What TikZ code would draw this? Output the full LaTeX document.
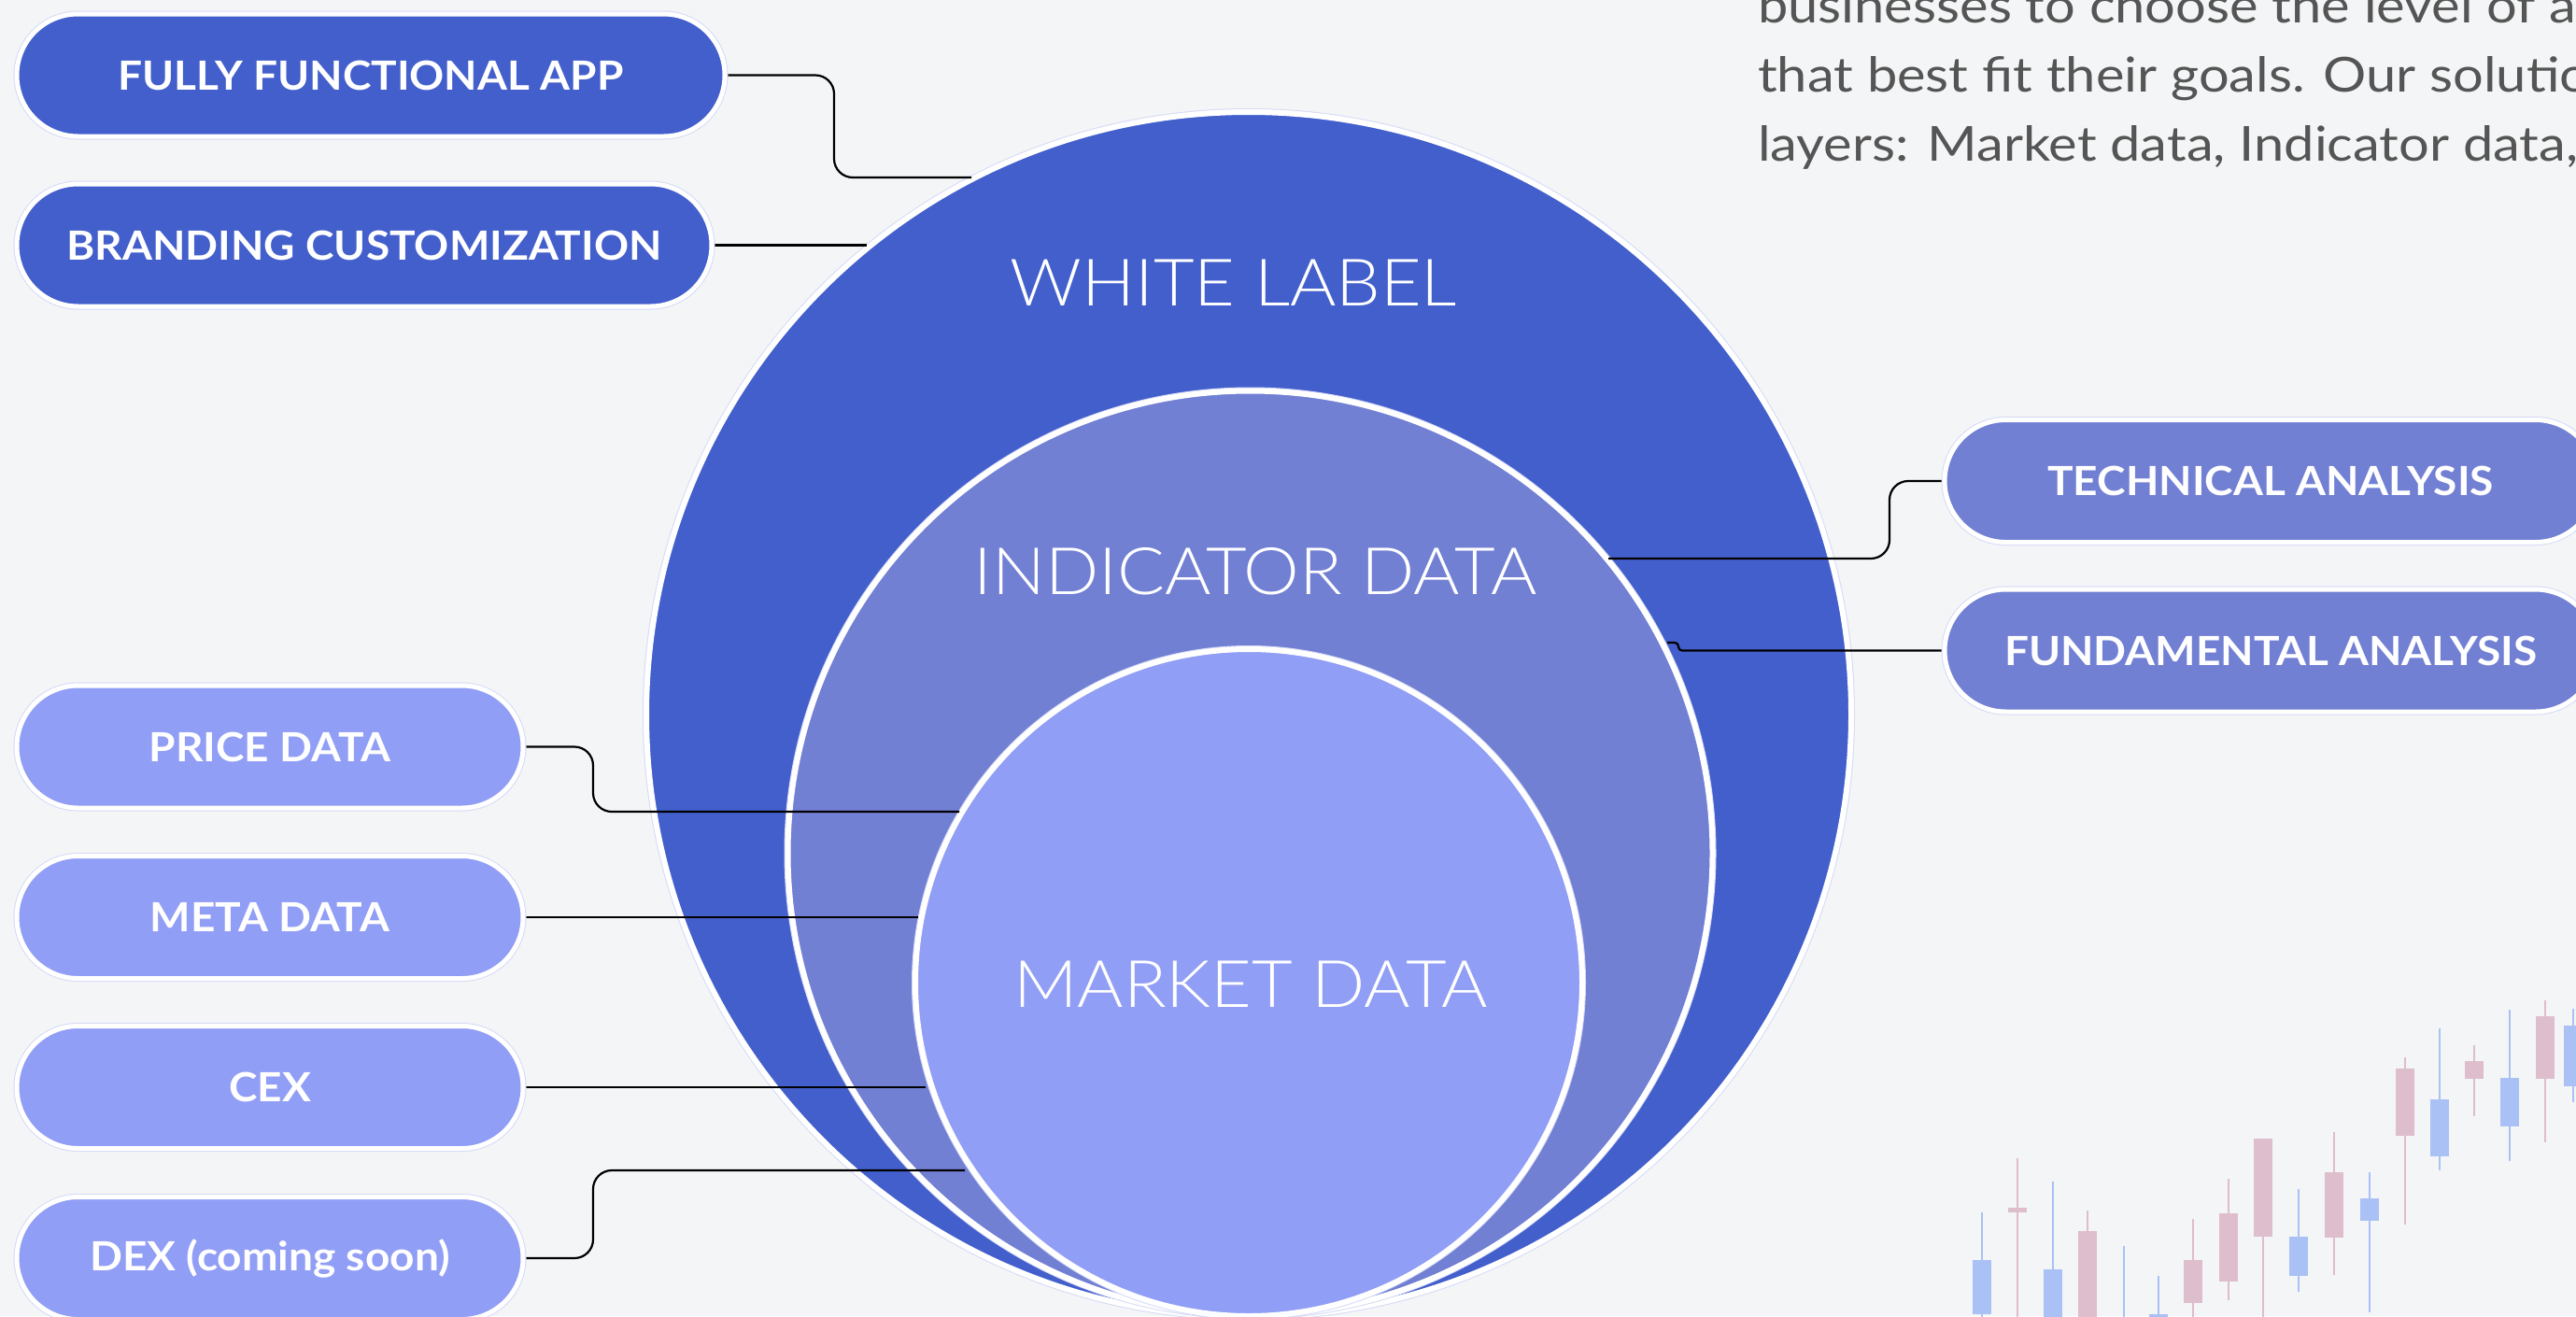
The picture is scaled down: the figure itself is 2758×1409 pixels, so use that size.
\documentclass[tikz,border=0pt]{standalone}
\usepackage{fontspec}
\setmainfont{Lato}[BoldFeatures={FakeStretch=1.07}]
\newfontfamily\lightfont{Lato Light}[FakeStretch=1.077]
\newfontfamily\parafont{Lato}[FakeStretch=1.12]
\usetikzlibrary{shapes.misc}
\definecolor{bgc}{HTML}{F4F5F6}
\definecolor{cdark}{HTML}{435FCC}
\definecolor{cmid}{HTML}{7280D4}
\definecolor{clight}{HTML}{919EF5}
\definecolor{lav}{HTML}{D5DAF6}
\definecolor{ptext}{HTML}{555555}
\definecolor{cblue}{HTML}{AAC1F5}
\definecolor{cpink}{HTML}{DEBDCC}
\pgfdeclarelayer{back}
\pgfdeclarelayer{mid}
\pgfsetlayers{back,mid,main}
\newcommand\mycandle[6]{%
  \draw[#6, line width=2pt] (#1,#2) -- (#1,#3);
  \fill[#6] (#1-10,#4) rectangle (#1+10,#5);}
\tikzset{
  pill/.style={rounded rectangle, minimum height=131pt, inner sep=0pt,
    draw=white, line width=5pt, preaction={draw=lav, line width=7pt},
    text=white, font=\bfseries\fontsize{43}{50}\selectfont},
  ring/.style={circle, inner sep=0pt, draw=white, line width=6pt,
    preaction={draw=lav, line width=8pt}},
  conn/.style={draw=black, line width=2.2pt},
  layerlabel/.style={text=white, font=\lightfont\fontsize{70}{80}\selectfont,
    anchor=base, inner sep=0pt},
  para/.style={text=ptext, font=\parafont\fontsize{51.6}{74}\selectfont,
    anchor=base west, inner sep=0pt},
}
\begin{document}
\begin{tikzpicture}[x=1pt, y=-1pt]
\useasboundingbox (0,0) rectangle (2758,1409);
\clip (0,0) rectangle (2758,1409);
\begin{pgfonlayer}{back}
\fill[bgc] (0,0) rectangle (2758,1409);

% faint candlesticks in the background
\mycandle{2122}{1298}{1420}{1349}{1407}{cblue}
\mycandle{2160}{1240}{1420}{1293}{1298}{cpink}
\mycandle{2198}{1265}{1420}{1359}{1420}{cblue}
\mycandle{2235}{1296}{1420}{1318}{1420}{cpink}
\mycandle{2274}{1334}{1420}{1420}{1420}{cblue}
\mycandle{2311}{1366}{1420}{1407}{1420}{cblue}
\mycandle{2348}{1305}{1420}{1349}{1395}{cpink}
\mycandle{2386}{1262}{1392}{1299}{1372}{cpink}
\mycandle{2423}{1219}{1420}{1219}{1324}{cpink}
\mycandle{2461}{1273}{1383}{1324}{1366}{cblue}
\mycandle{2499}{1212}{1365}{1255}{1325}{cpink}
\mycandle{2537}{1255}{1405}{1283}{1307}{cblue}
\mycandle{2575}{1132}{1311}{1144}{1216}{cpink}
\mycandle{2612}{1101}{1253}{1177}{1238}{cblue}
\mycandle{2649}{1119}{1195}{1136}{1155}{cpink}
\mycandle{2687}{1081}{1243}{1154}{1206}{cblue}
\mycandle{2725}{1071}{1223}{1088}{1155}{cpink}
\mycandle{2755}{1080}{1180}{1098}{1163}{cblue}

% paragraph text (cut by the frame, as in the original)
\node[para] (p1) at (1882,24) {businesses to choose the level of a};
\node[para] (p2) at (1882,98) {that best fit their goals. Our solutio};
\node[para] (p3) at (1882,172) {layers: Market data, Indicator data,};

% nested circles
\node[ring, fill=cdark, minimum size=1290pt] (outer) at (1337,765) {};
\node[ring, fill=cmid, minimum size=990pt] (ind) at (1338.5,913.5) {};
\node[ring, fill=clight, minimum size=714pt] (mkt) at (1337,1052) {};

\node[layerlabel] (lwl) at (1321,327) {WHITE LABEL};
\node[layerlabel] (lid) at (1344,636) {INDICATOR DATA};
\node[layerlabel] (lmd) at (1339,1078) {MARKET DATA};
\end{pgfonlayer}

% pills
\node[pill, fill=cdark, minimum width=758pt] (ffa) at (397,80.5) {FULLY FUNCTIONAL APP};
\node[pill, fill=cdark, minimum width=744pt] (bc) at (390,262.5) {BRANDING CUSTOMIZATION};
\node[pill, fill=cmid, minimum width=698pt] (ta) at (2431,515) {TECHNICAL ANALYSIS};
\node[pill, fill=cmid, minimum width=698pt] (fa) at (2431,696.5) {FUNDAMENTAL ANALYSIS};
\node[pill, fill=clight, minimum width=542pt] (pr) at (289,799.5) {PRICE DATA};
\node[pill, fill=clight, minimum width=542pt] (me) at (289,982) {META DATA};
\node[pill, fill=clight, minimum width=542pt] (cx) at (289,1164) {CEX};
\node[pill, fill=clight, minimum width=542pt] (dx) at (289,1347) {DEX (coming soon)};

% connector bends and end points on the circles
\coordinate (jFFA) at (893,190);  \coordinate (eFFA) at (1040,190);
\coordinate (eBC) at (928,262.5);
\coordinate (jTA) at (2023,598);  \coordinate (eTA) at (1722,598);
\coordinate (jFA) at (1797,688);  \coordinate (eFA) at (1785,688);
\coordinate (jPR) at (635,869);   \coordinate (ePR) at (1027,869);
\coordinate (eME) at (983,982);
\coordinate (eCX) at (991,1164);
\coordinate (jDX) at (635,1253);  \coordinate (eDX) at (1033,1253);

% connectors (above circles, below pills)
\begin{pgfonlayer}{mid}
\draw[conn, rounded corners=20pt] (ffa.east) -| (jFFA) -- (eFFA);
\draw[conn] (bc.east) -- (eBC);
\draw[conn, rounded corners=20pt] (ta.west) -| (jTA) -- (eTA);
\draw[conn, rounded corners=4pt] (fa.west) -| (jFA) -- (eFA);
\draw[conn, rounded corners=20pt] (pr.east) -| (jPR) -- (ePR);
\draw[conn] (me.east) -- (eME);
\draw[conn] (cx.east) -- (eCX);
\draw[conn, rounded corners=20pt] (dx.east) -| (jDX) -- (eDX);
\end{pgfonlayer}
\end{tikzpicture}
\end{document}
